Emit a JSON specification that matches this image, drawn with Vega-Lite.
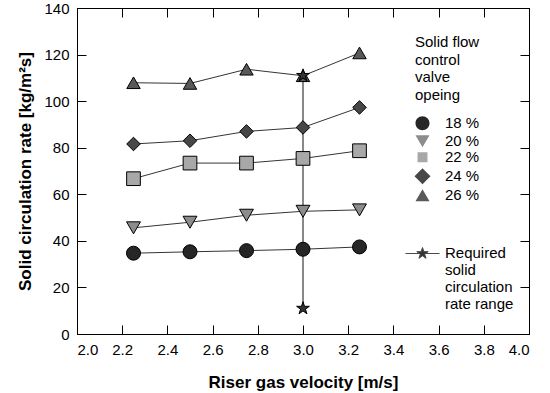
{
  "$schema": "https://vega.github.io/schema/vega-lite/v6.json",
  "width": 452,
  "height": 326,
  "autosize": {"type": "none"},
  "padding": {"left": 77, "top": 8, "right": 21, "bottom": 59},
  "background": "white",
  "config": {
    "font": "Liberation Sans",
    "view": {"stroke": "black", "strokeWidth": 1},
    "axis": {"grid": false, "domainColor": "black", "tickColor": "black", "labelColor": "black", "titleColor": "black", "labelFontSize": 15, "titleFontSize": 17, "titleFontWeight": "bold", "tickSize": -9},
    "legend": {"labelFontSize": 15, "titleFontSize": 15, "titleFontWeight": "normal", "labelColor": "black", "titleColor": "black", "padding": 0}
  },
  "datasets": {
    "series": [
      {"x": 2.25, "y": 34.7, "series": "18 %"},
      {"x": 2.5, "y": 35.3, "series": "18 %"},
      {"x": 2.75, "y": 35.8, "series": "18 %"},
      {"x": 3.0, "y": 36.4, "series": "18 %"},
      {"x": 3.25, "y": 37.4, "series": "18 %"},
      {"x": 2.25, "y": 45.6, "series": "20 %"},
      {"x": 2.5, "y": 48.0, "series": "20 %"},
      {"x": 2.75, "y": 51.0, "series": "20 %"},
      {"x": 3.0, "y": 52.7, "series": "20 %"},
      {"x": 3.25, "y": 53.3, "series": "20 %"},
      {"x": 2.25, "y": 66.7, "series": "22 %"},
      {"x": 2.5, "y": 73.4, "series": "22 %"},
      {"x": 2.75, "y": 73.4, "series": "22 %"},
      {"x": 3.0, "y": 75.4, "series": "22 %"},
      {"x": 3.25, "y": 78.7, "series": "22 %"},
      {"x": 2.25, "y": 81.6, "series": "24 %"},
      {"x": 2.5, "y": 83.0, "series": "24 %"},
      {"x": 2.75, "y": 87.0, "series": "24 %"},
      {"x": 3.0, "y": 88.7, "series": "24 %"},
      {"x": 3.25, "y": 97.3, "series": "24 %"},
      {"x": 2.25, "y": 107.9, "series": "26 %"},
      {"x": 2.5, "y": 107.6, "series": "26 %"},
      {"x": 2.75, "y": 113.7, "series": "26 %"},
      {"x": 3.0, "y": 110.9, "series": "26 %"},
      {"x": 3.25, "y": 120.7, "series": "26 %"}
    ],
    "required": [
      {"x": 3.0, "y": 11, "kind": "Required|solid|circulation|rate range"},
      {"x": 3.0, "y": 111, "kind": "Required|solid|circulation|rate range"}
    ]
  },
  "resolve": {
    "scale": {"shape": "independent", "fill": "independent", "size": "independent"},
    "axis": {"x": "independent", "y": "independent"}
  },
  "layer": [
    {
      "data": {"name": "required"},
      "mark": {"type": "line", "strokeWidth": 1.3},
      "encoding": {
        "x": {"field": "x", "type": "quantitative", "scale": {"domain": [2, 4], "nice": false, "zero": false},
          "axis": {"orient": "bottom", "values": [2.0, 2.2, 2.4, 2.6, 2.8, 3.0, 3.2, 3.4, 3.6, 3.8, 4.0], "format": ".1f", "title": "Riser gas velocity [m/s]", "labelPadding": 17, "titlePadding": 17}},
        "y": {"field": "y", "type": "quantitative", "scale": {"domain": [0, 140], "nice": false},
          "axis": {"orient": "left", "values": [0, 20, 40, 60, 80, 100, 120, 140], "title": "Solid circulation rate [kg/m²s]", "labelPadding": 17, "titlePadding": 9}},
        "stroke": {"field": "kind", "type": "nominal", "scale": {"range": ["#4a4a4a"]},
          "legend": {
            "orient": "none", "legendX": 338, "legendY": 238, "title": null,
            "labelExpr": "split(datum.label, '|')",
            "labelBaseline": "top",
            "labelLineHeight": 17.7,
            "labelOffset": 15,
            "symbolType": "M-2.43,0H-0.46M0.46,0H2.43M0,-0.86L0.194,-0.267L0.818,-0.266L0.314,0.102L0.505,0.696L0,0.33L-0.505,0.696L-0.314,0.102L-0.818,-0.266L-0.194,-0.267Z",
            "symbolSize": 196,
            "encode": {
              "symbols": {"update": {"fill": {"value": "#333333"}, "fillOpacity": {"value": 1}, "strokeWidth": {"value": 1}}},
              "labels": {"update": {"dy": {"value": -8}}}
            }
          }}
      }
    },
    {
      "data": {"name": "series"},
      "mark": {"type": "line", "color": "black", "strokeWidth": 0.8},
      "encoding": {
        "x": {"field": "x", "type": "quantitative", "axis": {"orient": "top", "values": [2.0, 2.2, 2.4, 2.6, 2.8, 3.0, 3.2, 3.4, 3.6, 3.8, 4.0], "labels": false, "title": null}},
        "y": {"field": "y", "type": "quantitative", "axis": {"orient": "right", "values": [0, 20, 40, 60, 80, 100, 120, 140], "labels": false, "title": null}},
        "detail": {"field": "series"}
      }
    },
    {
      "data": {"name": "series"},
      "mark": {"type": "point", "filled": true, "stroke": "black", "strokeWidth": 1, "opacity": 1},
      "encoding": {
        "x": {"field": "x", "type": "quantitative", "axis": null},
        "y": {"field": "y", "type": "quantitative", "axis": null},
        "shape": {"field": "series", "type": "nominal",
          "scale": {"domain": ["18 %", "20 %", "22 %", "24 %", "26 %"], "range": ["circle", "triangle-down", "square", "diamond", "triangle-up"]},
          "legend": null},
        "fill": {"field": "series", "type": "nominal",
          "scale": {"domain": ["18 %", "20 %", "22 %", "24 %", "26 %"], "range": ["#262626", "#8c8c8c", "#a8a8a8", "#474747", "#595959"]},
          "legend": null},
        "size": {"field": "series", "type": "nominal",
          "scale": {"domain": ["18 %", "20 %", "22 %", "24 %", "26 %"], "range": [196, 180, 114, 225, 180]},
          "legend": null}
      }
    },
    {
      "data": {"name": "series"},
      "mark": {"type": "point", "filled": true, "stroke": "black", "strokeWidth": 1, "opacity": 0, "size": 196},
      "encoding": {
        "x": {"field": "x", "type": "quantitative", "axis": null},
        "y": {"field": "y", "type": "quantitative", "axis": null},
        "shape": {"field": "series", "type": "nominal",
          "scale": {"domain": ["18 %", "20 %", "22 %", "24 %", "26 %"],
            "range": [
              "M-2.43,0H-1M1,0H2.43M1,0A1,1,0,1,1,-1,0A1,1,0,1,1,1,0Z",
              "M-2.43,0H-0.5M0.5,0H2.43M-1,-0.86L1,-0.86L0,0.86Z",
              "M-2.43,0H-0.71M0.71,0H2.43M-0.71,-0.71H0.71V0.71H-0.71Z",
              "M-2.43,0H-1.14M1.14,0H2.43M-1.14,0L0,-1.14L1.14,0L0,1.14Z",
              "M-2.43,0H-0.5M0.5,0H2.43M0,-0.86L1,0.86L-1,0.86Z"
            ]},
          "legend": {
            "orient": "none", "legendX": 338, "legendY": 27,
            "title": ["Solid flow", "control", "valve", "opeing"],
            "titleLineHeight": 17.6,
            "titlePadding": 13,
            "rowPadding": 0,
            "labelOffset": 15,
            "symbolSize": 196,
            "symbolOpacity": 1,
            "symbolStrokeColor": "black",
            "symbolStrokeWidth": 1
          }},
        "fill": {"field": "series", "type": "nominal",
          "scale": {"domain": ["18 %", "20 %", "22 %", "24 %", "26 %"], "range": ["#262626", "#8c8c8c", "#a8a8a8", "#474747", "#595959"]}}
      }
    },
    {
      "data": {"name": "required"},
      "mark": {"type": "point", "shape": "M0,-1L0.225,-0.309L0.951,-0.309L0.363,0.118L0.588,0.809L0,0.382L-0.588,0.809L-0.363,0.118L-0.951,-0.309L-0.225,-0.309Z", "filled": true, "fill": "#333333", "stroke": "black", "strokeWidth": 1, "size": 180, "opacity": 1},
      "encoding": {
        "x": {"field": "x", "type": "quantitative", "axis": null},
        "y": {"field": "y", "type": "quantitative", "axis": null}
      }
    }
  ]
}
